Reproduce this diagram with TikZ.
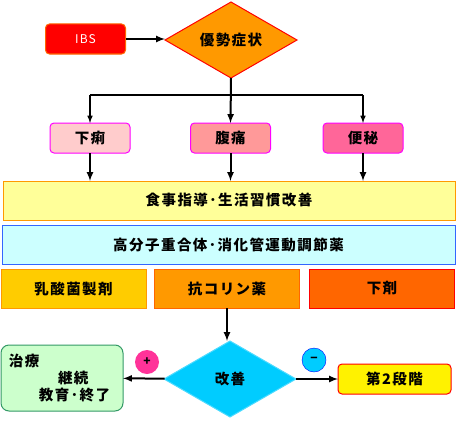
\documentclass[tikz,border=0pt]{standalone}
\usepackage{fontspec}
\setmainfont{Noto Sans CJK JP}[LetterSpace=10]
\usetikzlibrary{shapes.geometric}
\definecolor{boxred}{HTML}{FF0000}
\definecolor{boxorange}{HTML}{FF9900}
\definecolor{boxflame}{HTML}{FF6600}
\definecolor{boxgold}{HTML}{FFCC00}
\definecolor{boxsky}{HTML}{00CCFF}
\definecolor{boxmagenta}{HTML}{FF00FF}
\definecolor{boxblush}{HTML}{FFCCCC}
\definecolor{boxsalmon}{HTML}{FF9999}
\definecolor{boxrose}{HTML}{FF6699}
\definecolor{boxcream}{HTML}{FFFF99}
\definecolor{boxice}{HTML}{CCFFFF}
\definecolor{boxblue}{HTML}{3366FF}
\definecolor{boxmint}{HTML}{CCFFCC}
\definecolor{boxsea}{HTML}{339966}
\definecolor{boxpink}{HTML}{FF3399}
\tikzset{
  base/.style={draw,line width=1pt,inner sep=0pt,outer sep=0pt,font=\bfseries\fontsize{14.5}{17}\selectfont},
  symptom/.style={base,rounded corners=4pt,draw=boxmagenta,minimum width=80pt,minimum height=30pt},
  band/.style={base,minimum height=39pt},
  drug/.style={band,minimum width=145pt},
  choice/.style={base,diamond,aspect=1.737,minimum width=132pt,minimum height=76pt},
  badge/.style={circle,inner sep=0pt,minimum size=24pt,font=\bfseries\fontsize{12}{12}\selectfont},
  flow/.style={->,>=latex,line width=2pt},
}
\begin{document}
\begin{tikzpicture}[x=1pt,y=-1pt]
  \useasboundingbox (0,0) rectangle (457,420);
  \node[base,rounded corners=4pt,fill=boxred,draw=boxflame,text=white,
    font=\fontsize{12}{12}\selectfont,minimum width=80pt,minimum height=30pt] (ibs) at (85.5,39) {IBS};
  \node[choice,fill=boxorange,draw=boxred] (sym) at (231,40) {優勢症状};
  \node[symptom,fill=boxblush] (diarrhea) at (90,138) {下痢};
  \node[symptom,fill=boxsalmon] (pain) at (230.5,138) {腹痛};
  \node[symptom,fill=boxrose] (consti) at (363,138) {便秘};
  \node[band,minimum width=452pt,fill=boxcream,draw=boxorange] (diet) at (229,200.5) {食事指導･生活習慣改善};
  \node[band,minimum width=453pt,fill=boxice,draw=boxblue] (fiber) at (228.5,244.5) {高分子重合体･消化管運動調節薬};
  \node[drug,fill=boxgold,draw=boxorange] (lactic) at (73.5,288.5) {乳酸菌製剤};
  \node[drug,fill=boxorange,draw=boxflame] (anti) at (227,288.5) {抗コリン薬};
  \node[drug,fill=boxflame,draw=boxred] (laxative) at (382,288.5) {下剤};
  \node[choice,fill=boxsky,draw=boxsky!70!white] (better) at (230,379) {改善};
  \node[base,rounded corners=8pt,fill=boxmint,draw=boxsea,minimum width=122pt,minimum height=66pt,
    text width=106pt,align=left] (cont) at (62,378)
    {治療\\\hspace*{49pt}継続\\\hspace*{30pt}教育･終了};
  \node[base,rounded corners=4pt,fill=yellow,draw=boxred,minimum width=113pt,minimum height=30pt] (second) at (394.5,379) {第2段階};
  \node[badge,fill=boxpink] (plus) at (147,362) {+};
  \node[badge,fill=boxsky,draw=blue] (minus) at (314,360) {−};
  % connectors
  \draw[flow] (ibs) -- (sym.west |- ibs);
  \coordinate (fork) at (230,95);
  \draw[line width=1.5pt] (diarrhea |- fork) -- (consti |- fork);
  \draw[flow] (sym.south) -- (pain.north);
  \draw[flow,line width=1.5pt] (fork -| diarrhea) -- (diarrhea.north);
  \draw[flow,line width=1.5pt] (fork -| consti) -- (consti.north);
  \foreach \from in {diarrhea,pain,consti}
    \draw[flow] (\from.south) -- (\from.south |- diet.north);
  \draw[flow] (anti.south) -- (anti.south |- better.north);
  \draw[flow] (better) -- (cont);
  \draw[flow] (better) -- (second);
\end{tikzpicture}
\end{document}
